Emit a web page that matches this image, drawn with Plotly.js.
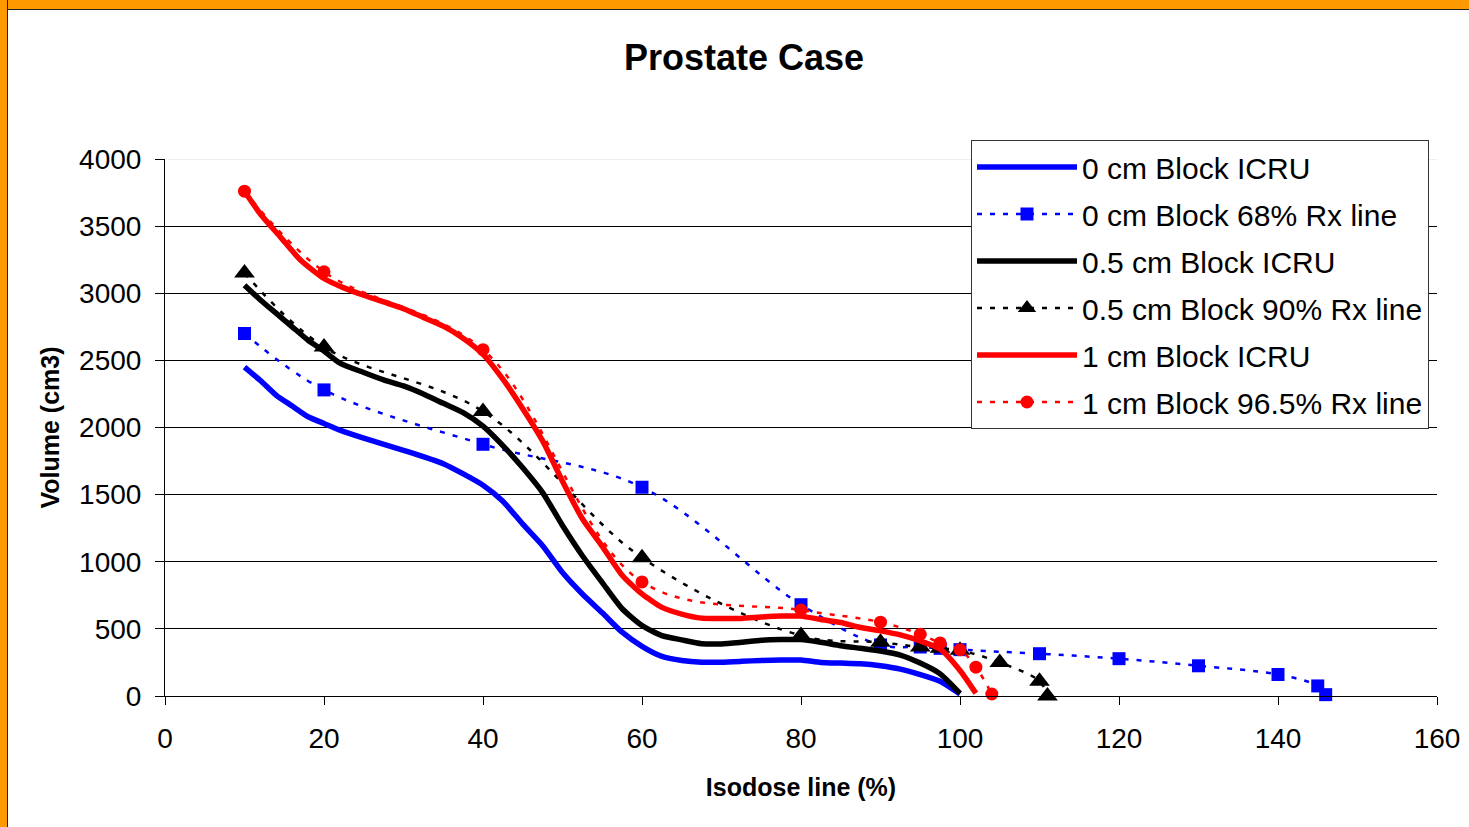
<!DOCTYPE html>
<html>
<head>
<meta charset="utf-8">
<script src="https://cdn.plot.ly/plotly-3.0.1.min.js"></script>
<style>
html,body{margin:0;padding:0;background:#fff;}
#wrap{position:relative;width:1469px;height:827px;overflow:hidden;}
#chart{position:absolute;left:0;top:0;width:1469px;height:827px;}
#topbar{position:absolute;left:0;top:0;width:1469px;height:9px;background:#FF9900;border-bottom:1px solid #222;}
#leftbar{position:absolute;left:0;top:0;width:7px;height:827px;background:#FF9900;border-right:1px solid #222;}
</style>
</head>
<body>
<div id="wrap">
<div id="chart"></div>
<div id="topbar"></div>
<div id="leftbar"></div>
</div>
<script>
// ---- Data ----
const seriesNames = [
  "0 cm Block ICRU",
  "0 cm Block 68% Rx line",
  "0.5 cm Block ICRU",
  "0.5 cm Block 90% Rx line",
  "1 cm Block ICRU",
  "1 cm Block 96.5% Rx line"
];

// 0 cm Block ICRU (solid blue)
const icru0X = [10,12,14,16,18,20,22,25,30,35,40,42.5,45,47.5,50,52.5,55,57.5,60,62.5,65,67.5,70,72.5,75,77.5,80,82.5,85,87.5,90,92.5,95,97.5,100];
const icru0Y = [2450,2350,2240,2160,2080,2030,1980,1920,1830,1730,1570,1450,1280,1120,920,760,620,475,370,295,265,252,252,258,265,268,268,250,245,240,225,200,160,110,15];

// 0 cm Block 68% Rx line (blue squares)
const rx0X = [10,20,40,60,80,90,95,97.5,100,110,120,130,140,145,146];
const rx0Y = [2700,2280,1875,1555,680,380,365,355,345,315,278,225,160,75,10];

// 0.5 cm Block ICRU (solid black)
const icru05X = [10,12,14,16,18,20,22,25,27.5,30,32.5,35,37.5,40,42.5,45,47.5,50,52.5,55,57.5,60,62.5,65,67.5,70,72.5,75,77.5,80,82.5,85,87.5,90,92.5,95,97.5,100];
const icru05Y = [3060,2950,2850,2750,2650,2570,2480,2410,2355,2310,2250,2180,2110,2010,1865,1700,1515,1270,1045,845,650,525,450,418,390,388,400,415,420,420,400,375,355,335,305,245,165,20];

// 0.5 cm Block 90% Rx line (black triangles)
const rx05X = [10,20,40,60,80,90,95,97.5,100,105,110,111];
const rx05Y = [3150,2600,2120,1030,450,400,365,355,340,250,110,0];

// 1 cm Block ICRU (solid red)
const icru1X = [10,12,14.5,17,20,22.5,25,27.5,30,32.5,35,37.5,40,42.5,45,47.5,50,52.5,55,57.5,60,62.5,65,67.5,70,72.5,75,77.5,80,82.5,85,87.5,90,92.5,95,97.5,100,102];
const icru1Y = [3760,3590,3420,3250,3110,3040,2985,2935,2885,2820,2755,2665,2545,2360,2140,1900,1600,1320,1115,900,760,660,610,580,578,578,588,595,595,570,548,510,485,455,410,350,190,20];

// 1 cm Block 96.5% Rx line (red circles)
const rx1X = [10,20,40,60,80,90,95,97.5,100,102,104];
const rx1Y = [3760,3160,2580,850,640,550,460,395,345,215,15];

const xTickVals = [0,20,40,60,80,100,120,140,160];
const yTickVals = [0,500,1000,1500,2000,2500,3000,3500,4000];

// ---- Styling ----
const FONT = "Liberation Sans, Arial, sans-serif";
const dotted = "5px,8px";

function solid(name, x, y, color, grp) {
  return {type:"scatter", mode:"lines", name:name, x:x, y:y, legendgroup:grp,
    line:{color:color, width:5.5, shape:"spline", smoothing:0.6}, cliponaxis:false};
}
function marked(name, x, y, color, symbol, size, grp) {
  return {type:"scatter", mode:"lines+markers", name:name, x:x, y:y, legendgroup:grp,
    line:{color:color, width:2.5, dash:dotted, shape:"spline", smoothing:1},
    marker:{color:color, symbol:symbol, size:size}, cliponaxis:false};
}

const data = [
  solid(seriesNames[0], icru0X, icru0Y, "#0000FF", "g1"),
  marked(seriesNames[1], rx0X, rx0Y, "#0000FF", "square", 13, "g2"),
  solid(seriesNames[2], icru05X, icru05Y, "#000000", "g3"),
  marked(seriesNames[3], rx05X, rx05Y, "#000000", "triangle-up", 18, "g4"),
  solid(seriesNames[4], icru1X, icru1Y, "#FF0000", "g5"),
  marked(seriesNames[5], rx1X, rx1Y, "#FF0000", "circle", 13, "g6")
];

const layout = {
  width:1469, height:827,
  paper_bgcolor:"#ffffff", plot_bgcolor:"#ffffff",
  margin:{l:165, r:32, t:159, b:131, pad:0},
  font:{family:FONT, color:"#000", size:28},
  title:{text:"Prostate Case", font:{family:FONT, size:36, weight:"bold", color:"#000"},
         x:744/1469, xref:"container", xanchor:"center", y:1-57/827, yref:"container", yanchor:"middle"},
  xaxis:{range:[0,160], tickvals:xTickVals, ticktext:xTickVals.map(String),
    showgrid:false, zeroline:false, showline:true, linecolor:"#000", linewidth:1,
    ticks:"outside", ticklen:8, tickcolor:"#000", tickwidth:1,
    tickfont:{family:FONT, size:28, color:"#000"}, ticklabelstandoff:9,
    title:{text:"Isodose line (%)", font:{family:FONT, size:25, weight:"bold", color:"#000"}, standoff:25}},
  yaxis:{range:[0,4000], tickvals:yTickVals, ticktext:yTickVals.map(String),
    showgrid:true, gridcolor:"#000", gridwidth:1, zeroline:false, showline:true, linecolor:"#000", linewidth:1,
    ticks:"outside", ticklen:9, tickcolor:"#000", tickwidth:1,
    tickfont:{family:FONT, size:28, color:"#000"}, ticklabelstandoff:8,
    title:{text:"Volume (cm3)", font:{family:FONT, size:25, weight:"bold", color:"#000"}, standoff:12}},
  showlegend:true,
  legend:{x:(971-165)/1272, xanchor:"left", y:(696-140)/537, yanchor:"top",
    bgcolor:"#ffffff", bordercolor:"#333", borderwidth:1,
    font:{family:FONT, size:30, color:"#000"}, itemwidth:100, tracegroupgap:5,
    traceorder:"grouped"},
  shapes:[{type:"line", xref:"paper", yref:"y", x0:0.002, x1:1, y0:4000, y1:4000,
    line:{color:"#eeeeee", width:2}, layer:"above"}],
  hovermode:false
};

Plotly.newPlot("chart", data, layout, {staticPlot:true, displayModeBar:false});
</script>
</body>
</html>
